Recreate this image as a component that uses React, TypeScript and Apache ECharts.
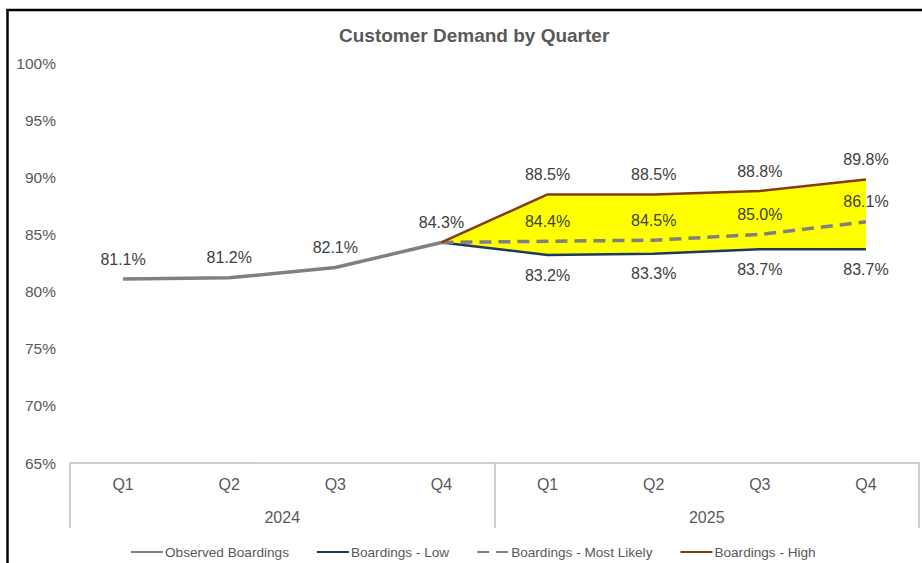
import React, { useEffect, useRef } from "react";
import * as echarts from "echarts";

const quarters = ["Q1", "Q2", "Q3", "Q4", "Q1", "Q2", "Q3", "Q4"];
const years = ["2024", "2025"];
const observed = [81.1, 81.2, 82.1, 84.3, null, null, null, null];
const low = [null, null, null, 84.3, 83.2, 83.3, 83.7, 83.7];
const mostLikely = [null, null, null, 84.3, 84.4, 84.5, 85.0, 86.1];
const high = [null, null, null, 84.3, 88.5, 88.5, 88.8, 89.8];
const yTicks = { min: 65, max: 100, interval: 5 };

const FONT = "'Liberation Sans', Arial, sans-serif";

export default function App() {
  const ref = useRef<HTMLDivElement>(null);
  useEffect(() => {
    if (!ref.current) return;
    const chart = echarts.init(ref.current, null, { renderer: "svg" });
    const bandDiff = high.map((h, i) =>
      h == null || low[i] == null ? null : +(h - (low[i] as number)).toFixed(2)
    );
    const fmt = (p: any) =>
      p.dataIndex === 3 || p.value == null ? "" : Number(p.value).toFixed(1) + "%";
    const labelBase = {
      show: true,
      color: "#404040",
      fontSize: 16,
      fontFamily: FONT,
      distance: 11,
      opacity: 1,
    };
    const hiddenSym = {
      symbol: "circle",
      symbolSize: 2,
      showSymbol: true,
      itemStyle: { opacity: 0 },
    };
    const option: any = {
      animation: false,
      backgroundColor: "#ffffff",
      textStyle: { fontFamily: FONT },
      title: {
        text: "Customer Demand by Quarter",
        left: 334,
        top: 21,
        textStyle: { color: "#595959", fontSize: 19, fontWeight: "bold", fontFamily: FONT },
      },
      grid: { left: 70, right: 3, top: 63, bottom: 100, containLabel: false },
      legend: {
        left: 125,
        top: 540,
        itemWidth: 32,
        itemHeight: 14,
        itemGap: 27,
        data: ["Observed Boardings", "Boardings - Low", "Boardings - Most Likely", "Boardings - High"],
        textStyle: { color: "#595959", fontSize: 13.6, fontFamily: FONT, padding: [0, 0, 0, -3] },
      },
      xAxis: [
        {
          type: "category",
          data: quarters,
          position: "bottom",
          boundaryGap: true,
          axisLine: { show: true, lineStyle: { color: "#bfbfbf", width: 1.5 } },
          axisTick: { show: false },
          axisLabel: { color: "#595959", fontSize: 16, margin: 13, fontFamily: FONT },
        },
        {
          type: "category",
          data: years,
          position: "bottom",
          boundaryGap: true,
          axisLine: { show: false },
          axisTick: { show: true, length: 65, lineStyle: { color: "#bfbfbf", width: 1.5 } },
          axisLabel: { color: "#595959", fontSize: 16, margin: 46, fontFamily: FONT },
        },
      ],
      yAxis: {
        type: "value",
        min: yTicks.min,
        max: yTicks.max,
        interval: yTicks.interval,
        axisLine: { show: false },
        axisTick: { show: false },
        splitLine: { show: false },
        axisLabel: { color: "#595959", fontSize: 15.5, margin: 14, formatter: "{value}%", fontFamily: FONT },
      },
      series: [
        {
          name: "bandBase",
          type: "line",
          stack: "band",
          data: low,
          symbol: "none",
          lineStyle: { opacity: 0 },
          silent: true,
          z: 1,
        },
        {
          name: "band",
          type: "line",
          stack: "band",
          data: bandDiff,
          symbol: "none",
          lineStyle: { opacity: 0 },
          areaStyle: { color: "#ffff00", opacity: 1 },
          silent: true,
          z: 1,
        },
        {
          name: "Observed Boardings",
          type: "line",
          data: observed,
          ...hiddenSym,
          color: "#808080",
          lineStyle: { color: "#808080", width: 3.5 },
          label: { ...labelBase, position: "top", formatter: (p: any) => (p.value == null ? "" : Number(p.value).toFixed(1) + "%") },
          z: 3,
        },
        {
          name: "Boardings - Low",
          type: "line",
          data: low,
          ...hiddenSym,
          color: "#1f3864",
          lineStyle: { color: "#1f3864", width: 2.5 },
          label: { ...labelBase, position: "bottom", formatter: fmt },
          z: 3,
        },
        {
          name: "Boardings - Most Likely",
          type: "line",
          data: mostLikely,
          ...hiddenSym,
          color: "#808080",
          lineStyle: { color: "#808080", width: 3.5, type: [12, 7] },
          label: { ...labelBase, position: "top", formatter: fmt },
          z: 3,
        },
        {
          name: "Boardings - High",
          type: "line",
          data: high,
          ...hiddenSym,
          color: "#843c0c",
          lineStyle: { color: "#843c0c", width: 2.5 },
          label: { ...labelBase, position: "top", formatter: fmt },
          z: 3,
        },
      ],
      graphic: [
        { type: "line", shape: { x1: 7.5, y1: 9, x2: 7.5, y2: 563 }, style: { stroke: "#000", lineWidth: 2.5 }, silent: true },
        { type: "line", shape: { x1: 6.5, y1: 10, x2: 922, y2: 10 }, style: { stroke: "#000", lineWidth: 2.5 }, silent: true },
      ],
    };
    chart.setOption(option);
    return () => chart.dispose();
  }, []);
  return (
    <div style={{ position: "fixed", left: 0, top: 0, width: 922, height: 563, background: "#fff" }}>
      <div ref={ref} style={{ width: 922, height: 563 }} />
    </div>
  );
}
